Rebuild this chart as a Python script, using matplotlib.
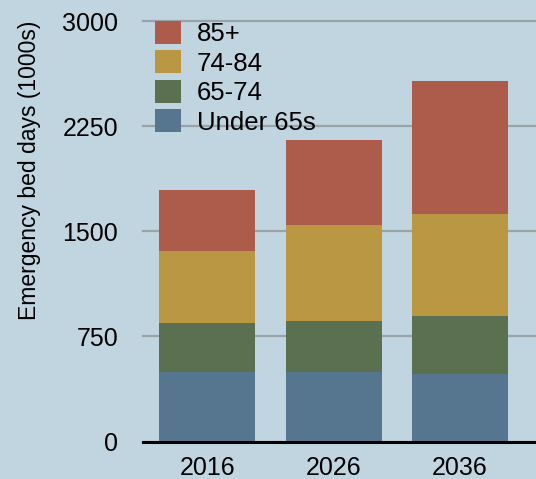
import numpy as np
import matplotlib
matplotlib.use("Agg")
from matplotlib import pyplot as plt

plt.rcParams['font.family'] = ['Liberation Sans', 'DejaVu Sans']

# data
years = ["2016", "2026", "2036"]
under65 = [496, 496, 484]
age65_74 = [349, 364, 411]
age74_84 = [514, 685, 728]
age85 = [435, 606, 949]
labels = ["Under 65s", "65-74", "74-84", "85+"]
colors = ["#56758f", "#5b7050", "#b99743", "#ad5b4a"]
yticks = [0, 750, 1500, 2250, 3000]

bg = "#c1d5e0"
fig = plt.figure(figsize=(5.36, 4.79), dpi=100, facecolor=bg)
ax = fig.add_axes([0.267, 0.078, 0.733, 0.878], facecolor=bg)

x = np.arange(len(years))
bottom = np.zeros(len(years))
handles = []
for vals, lab, col in zip([under65, age65_74, age74_84, age85], labels, colors):
    b = ax.bar(x, vals, 0.76, bottom=bottom, color=col, label=lab, zorder=2)
    handles.append(b)
    bottom = bottom + np.array(vals)

ax.set_xlim(-0.506, 2.6)
ax.set_ylim(0, 3000)
ax.set_yticks(yticks)
ax.set_xticks(x)
ax.set_xticklabels(years)
ax.tick_params(length=0, labelsize=18)
ax.tick_params(axis="x", pad=10)
ax.tick_params(axis="y", pad=18)
ax.yaxis.grid(True, color="#9aa3a8", linewidth=1.6, zorder=0)
ax.set_axisbelow(True)
for g in ax.yaxis.get_gridlines():
    g.set_clip_on(False)
for s in ["top", "right", "left"]:
    ax.spines[s].set_visible(False)
ax.spines["bottom"].set_linewidth(2.2)
ax.spines["bottom"].set_color("black")
ax.spines["bottom"].set_zorder(3)

fig.text(30 / 536, 1 - 170 / 479, "Emergency bed days (1000s)", rotation=90,
         ha="center", va="center", fontsize=16.5)

leg = ax.legend(handles[::-1], labels[::-1], loc="upper left",
                bbox_to_anchor=(0.0305, 1.0), frameon=False, fontsize=18.5,
                handlelength=1.0, handleheight=1.0, handletextpad=0.62,
                labelspacing=0.16, borderaxespad=0, borderpad=0)

fig.savefig("out.png", dpi=100, facecolor=bg)
